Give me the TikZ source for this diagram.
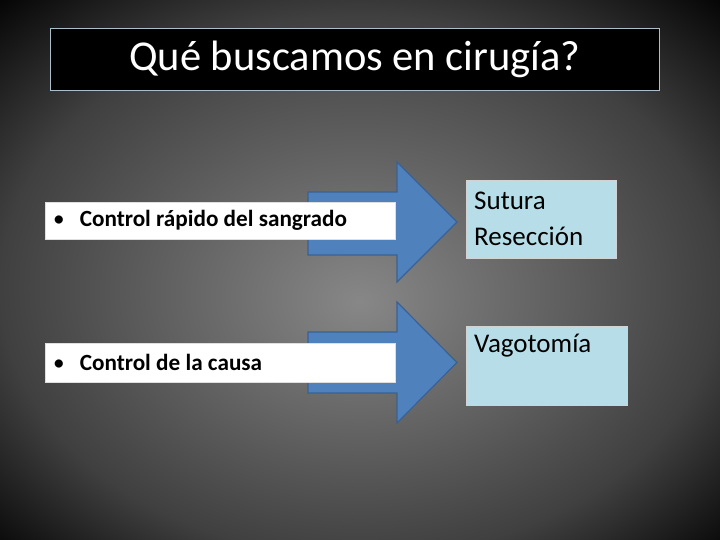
\documentclass[tikz,border=0pt]{standalone}
\usepackage{fontspec}
\setmainfont{Carlito}

\definecolor{arrowblue}{HTML}{4F81BD}
\definecolor{arrowline}{HTML}{3A6193}
\definecolor{optblue}{HTML}{B7DEE8}
\definecolor{titleline}{HTML}{A9BFCB}
\definecolor{bgin}{gray}{0.53}
\definecolor{bgmid}{gray}{0.25}

\pgfdeclareradialshading{slidebg}{\pgfpoint{0bp}{-3bp}}{%
  color(0bp)=(bgin); color(25bp)=(bgmid); color(37bp)=(black); color(50bp)=(black)}

\newcommand\slidebullet{{\mdseries\textbullet}\hspace{15pt}}

\tikzset{
  blockarrow/.style={fill=arrowblue, draw=arrowline, line width=1.2pt, line join=miter},
  whitebox/.style={draw=gray!25, fill=white, anchor=north west, minimum width=350pt,
    text width=334pt, inner xsep=8pt, align=flush left,
    font=\fontsize{23.2}{27}\selectfont\bfseries},
  optbox/.style={draw=gray!35, fill=optblue, anchor=north west, inner xsep=8pt,
    align=flush left, font=\fontsize{27}{36}\selectfont}
}

\begin{document}
\begin{tikzpicture}[x=1pt,y=-1pt]

  % background
  \shade[shading=slidebg] (0,0) rectangle (720,540);
  \useasboundingbox (0,0) rectangle (720,540);

  % title
  \node[fill=black, draw=titleline, line width=0.8pt, anchor=north west,
    minimum width=609pt, minimum height=62pt, text=white, text depth=8pt,
    font=\fontsize{42.5}{50}\selectfont] (title) at (50,28) {Qué buscamos en cirugía?};

  % arrows
  \draw[blockarrow] (308,192) -- (397,192) -- (397,162) -- (457,222)
    -- (397,282) -- (397,255) -- (308,255) -- cycle;
  \draw[blockarrow] (308,332) -- (397,332) -- (397,302) -- (457,362.5)
    -- (397,423) -- (397,393) -- (308,393) -- cycle;

  % left boxes
  \node[whitebox, minimum height=37pt] (rapido) at (45,202)
    {\slidebullet Control rápido del sangrado};
  \node[whitebox, minimum width=348pt, minimum height=39pt] (causa) at (45,343)
    {\slidebullet Control de la causa};

  % right boxes
  \node[optbox, text width=134pt, minimum height=78pt] (sutura) at (466,180)
    {Sutura\\Resección};
  \node[optbox, text width=145pt, text height=19pt, text depth=46pt,
    inner ysep=7pt] (vago) at (466,326) {Vagotomía};

\end{tikzpicture}
\end{document}
